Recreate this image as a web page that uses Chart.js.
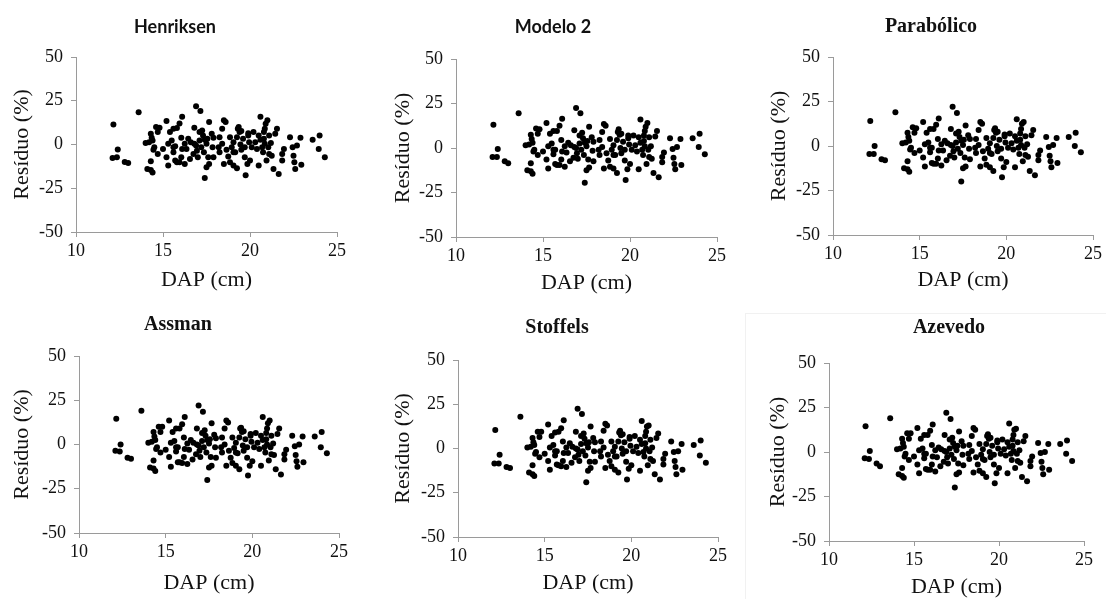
<!DOCTYPE html>
<html lang="pt">
<head>
<meta charset="utf-8">
<title>Resíduos por modelo</title>
<script src="https://cdn.jsdelivr.net/npm/chart.js@4.4.1/dist/chart.umd.min.js"></script>
<style>
  html, body { margin: 0; padding: 0; background: #fff; overflow: hidden; }
  body { position: relative; width: 1106px; height: 599px; }
  canvas { position: absolute; }
  .frame { position: absolute; left: 745px; top: 313px; width: 400px; height: 400px;
           border-left: 1px solid #f1f1f1; border-top: 1px solid #f1f1f1; }
</style>
</head>
<body>
<div class="frame"></div>
<canvas id="c0"></canvas>
<canvas id="c1"></canvas>
<canvas id="c2"></canvas>
<canvas id="c3"></canvas>
<canvas id="c4"></canvas>
<canvas id="c5"></canvas>
<script>
// DAP (cm) das árvores, comum a todos os modelos
const dap = [
  12.15, 12.1, 12.35, 12.4, 12.8, 13.0, 13.6, 14.0, 14.2, 14.1,
  14.3, 14.4, 14.3, 14.3, 14.35, 14.4, 14.6, 14.8, 14.5, 14.7,
  14.45, 15.0, 15.2, 15.3, 15.2, 15.4, 15.5, 15.3, 15.6, 15.8,
  15.95, 16.1, 15.6, 15.7, 15.8, 15.95, 15.7, 16.05, 16.1, 16.05,
  16.25, 16.35, 16.45, 16.6, 16.75, 16.55, 16.8, 16.9, 17.15, 16.9,
  16.95, 17.0, 17.1, 17.2, 17.3, 17.35, 17.4, 17.5, 17.55, 17.6,
  17.65, 17.65, 17.8, 17.85, 17.9, 17.9, 18.4, 18.5, 18.6, 18.4,
  18.5, 18.65, 18.75, 18.85, 18.85, 18.95, 19.05, 19.15, 19.25, 19.25,
  19.3, 19.4, 19.45, 19.5, 19.6, 19.7, 19.75, 19.85, 19.9, 19.95,
  20.1, 20.2, 20.3, 20.5, 20.6, 20.6, 20.7, 20.75, 20.8, 20.85,
  20.9, 20.95, 21.0, 21.05, 21.1, 21.2, 21.25, 21.35, 21.45, 21.55,
  21.65, 21.85, 21.95, 21.85, 22.3, 22.45, 22.5, 22.55, 22.6, 22.7,
  22.9, 22.95, 23.6, 24.0, 23.95, 24.3,
  16.8, 17.1, 19.05, 19.7, 20.4, 18.2, 18.25, 19.05, 20.0,
  19.35, 19.5, 19.9, 20.5, 20.8, 20.85, 18.25, 17.4, 17.25, 16.25,
  15.6, 14.7, 21.1, 17.5
];

// resíduos (%) de cada modelo, na mesma ordem do DAP
const residuoHenriksen = [
  11.5, -7.7, -7.3, -2.9, -10.0, -10.6, 18.5, 0.8, 1.3, -14.0,
  -14.6, -16.0, -9.6, 6.2, 3.8, 2.3, 10.0, 9.6, -1.5, -5.4,
  -3.0, -2.5, -7.3, -12.0, 13.5, 7.1, 2.3, 0.4, 9.0, 9.4,
  12.0, 15.8, -4.4, -9.2, -10.2, -10.2, -1.0, 3.8, -2.5, -7.3,
  -11.2, -2.5, 3.3, 1.3, -5.4, -8.3, 9.6, 21.9, 19.2, -0.6,
  -3.5, -7.3, 2.3, -1.5, 5.2, -4.4, -19.2, 0.4, 3.3, -7.3,
  -11.2, 12.9, 6.2, -1.5, -7.3, 3.8, 9.0, 13.8, 12.9, 0.4,
  -11.2, -3.0, -6.9, 4.2, -10.2, -1.5, 1.3, -4.4, -13.5, 4.2,
  9.0, 7.1, 0.0, -3.0, 3.3, -7.3, -17.5, -11.2, 5.2, 1.3,
  -1.5, 7.1, 1.3, -12.0, 2.7, 15.8, -1.5, -4.4, 7.1, 9.0,
  11.9, -9.2, 13.8, -1.5, 5.2, 0.8, -6.4, -14.0, 6.2, 9.0,
  -16.9, -5.4, -2.5, -9.2, 4.2, -1.5, -6.4, -10.2, -14.0, -0.6,
  3.8, -11.5, 2.7, 5.2, -2.5, -7.3,
  0.4, 7.1, -4.4, -1.5, -2.5, -1.5, 4.2, -12.0, -9.2,
  10.0, 7.7, 6.5, 5.2, 3.3, 0.4, -4.4, 2.7, 8.0, 0.4,
  -1.5, 7.1, -5.4, -13.0
];

const residuoModelo2 = [
  13.0, -5.0, -5.0, -0.5, -7.5, -8.5, 19.5, 1.5, 2.0, -12.5,
  -13.0, -14.5, -8.5, 7.5, 5.0, 3.0, 11.0, 10.5, -1.0, -4.0,
  -2.0, -2.0, -6.5, -11.5, 14.0, 8.0, 2.5, 1.0, 9.5, 9.5,
  12.5, 16.5, -3.5, -9.0, -9.5, -9.5, -1.0, 4.5, -2.0, -6.5,
  -10.5, -2.5, 3.0, 1.5, -5.5, -7.5, 10.0, 22.5, 19.5, 0.0,
  -3.0, -6.0, 2.5, -1.0, 5.5, -4.0, -19.5, 1.0, 4.0, -6.5,
  -11.0, 12.0, 6.0, -1.5, -7.5, 3.5, 9.0, 13.5, 12.5, 0.5,
  -11.5, -3.0, -7.0, 5.0, -10.5, -1.0, 1.5, -4.0, -14.0, 4.5,
  9.0, 7.5, 0.0, -3.0, 3.5, -7.0, -18.0, -12.0, 5.5, 2.0,
  -1.0, 7.0, 1.5, -12.0, 3.0, 16.0, -1.0, -4.0, 7.0, 9.5,
  12.0, -9.0, 14.0, -1.0, 6.0, 1.0, -6.0, -14.0, 6.5, 9.5,
  -16.5, -5.0, -2.5, -8.0, 5.5, -0.5, -5.5, -9.0, -12.0, 0.5,
  5.0, -9.5, 5.5, 8.0, 0.5, -3.5,
  0.5, 7.0, -4.0, -1.0, -2.0, -1.0, 4.5, -11.5, -9.0,
  10.5, 8.0, 7.0, 6.0, 4.0, 1.0, -4.0, 3.0, 8.5, 1.0,
  -1.0, 8.0, -5.0, -12.5
];

const residuoParabolico = [
  14.0, -4.5, -4.5, 0.0, -7.5, -8.0, 19.0, 1.5, 2.0, -12.5,
  -13.0, -14.5, -8.5, 7.5, 5.0, 3.0, 10.5, 10.0, -1.0, -4.0,
  -2.0, -2.5, -6.5, -11.5, 13.5, 7.5, 2.0, 1.0, 9.5, 9.5,
  12.0, 15.5, -3.5, -9.5, -10.0, -10.0, -1.0, 4.0, -2.5, -7.0,
  -11.0, -2.5, 3.0, 1.5, -5.5, -8.0, 9.5, 22.0, 18.5, 0.0,
  -3.0, -6.5, 2.0, -1.5, 5.0, -4.0, -20.0, 0.5, 3.5, -6.5,
  -11.5, 11.5, 6.0, -1.5, -7.5, 4.0, 9.0, 13.5, 12.5, 0.5,
  -11.5, -3.0, -7.0, 4.5, -10.5, -1.5, 1.5, -4.5, -14.0, 4.5,
  9.0, 7.5, 0.0, -3.0, 3.5, -7.0, -17.5, -12.0, 5.5, 2.0,
  -1.0, 7.0, 1.5, -12.0, 3.0, 15.0, -1.0, -4.5, 7.0, 9.5,
  12.5, -8.5, 13.5, -1.0, 5.5, 1.0, -6.0, -14.0, 6.0, 9.0,
  -16.5, -5.0, -2.5, -8.0, 5.0, -0.5, -5.5, -8.5, -12.0, 0.5,
  4.5, -9.5, 5.0, 7.5, 0.0, -3.5,
  0.5, 7.0, -4.0, -1.5, -2.0, -1.0, 4.0, -12.0, -9.0,
  10.0, 8.0, 6.5, 5.5, 3.5, 0.5, -4.0, 3.0, 8.0, 1.0,
  -1.0, 7.5, -5.0, -12.5
];

const residuoAssman = [
  14.5, -3.5, -4.0, 0.0, -7.5, -8.0, 19.0, 1.0, 1.5, -13.0,
  -13.5, -15.0, -9.0, 7.0, 4.5, 2.5, 10.0, 10.0, -1.5, -4.5,
  -2.5, -3.0, -7.0, -12.5, 13.5, 7.0, 2.0, 1.0, 9.0, 9.0,
  11.5, 15.5, -4.0, -10.0, -10.0, -10.5, -1.5, 4.0, -2.5, -7.0,
  -11.0, -3.0, 2.5, 1.0, -5.5, -8.5, 9.0, 22.0, 18.5, -0.5,
  -3.5, -7.0, 2.0, -1.5, 5.0, -4.5, -20.0, 0.5, 3.0, -7.0,
  -12.0, 12.0, 5.5, -1.5, -7.5, 3.5, 9.0, 13.5, 12.5, 0.0,
  -12.0, -3.5, -7.5, 4.0, -10.5, -2.0, 1.0, -5.0, -14.0, 4.0,
  9.0, 7.0, -0.5, -3.5, 3.0, -7.5, -17.5, -12.0, 5.0, 1.5,
  -1.5, 6.5, 1.0, -12.0, 2.5, 15.5, -1.5, -4.5, 6.5, 9.0,
  12.0, -9.0, 13.5, -1.5, 5.0, 0.5, -6.0, -14.0, 6.0, 9.0,
  -17.0, -5.5, -3.0, -8.5, 5.0, -1.0, -6.0, -9.5, -12.5, 0.0,
  4.5, -10.0, 4.5, 7.0, -1.5, -5.0,
  0.0, 6.5, -4.5, -1.5, -2.5, -1.5, 4.0, -12.0, -9.5,
  9.5, 7.5, 6.0, 5.0, 3.0, 0.0, -4.5, 2.5, 8.0, 0.5,
  -1.5, 7.0, -5.5, -13.0
];

const residuoStoffels = [
  10.5, -8.5, -8.5, -3.5, -10.5, -11.0, 18.0, 0.5, 1.0, -13.5,
  -14.5, -15.5, -9.5, 6.0, 3.5, 2.0, 9.5, 9.5, -2.0, -5.0,
  -3.0, -3.0, -7.0, -12.0, 13.5, 7.0, 2.0, 0.5, 9.0, 9.5,
  11.5, 16.0, -4.0, -9.0, -9.5, -10.0, -1.5, 4.0, -2.5, -7.0,
  -10.5, -2.5, 3.0, 1.0, -5.0, -8.0, 9.5, 22.5, 19.5, -0.5,
  -3.5, -7.0, 2.5, -1.5, 5.5, -4.0, -19.0, 0.5, 3.5, -7.5,
  -11.0, 12.5, 6.0, -1.5, -7.5, 3.5, 10.0, 14.0, 13.0, 0.5,
  -11.0, -3.5, -7.0, 4.0, -10.0, -1.5, 1.0, -4.5, -13.5, 4.0,
  9.0, 7.5, 0.0, -3.0, 3.5, -7.5, -17.5, -11.5, 5.5, 1.5,
  -1.5, 7.0, 1.0, -12.5, 2.5, 15.5, -2.0, -4.5, 7.0, 9.5,
  12.5, -9.5, 13.0, -1.5, 5.0, 0.5, -7.0, -14.5, 6.0, 8.5,
  -17.5, -6.0, -3.0, -9.0, 4.0, -2.0, -7.0, -10.5, -14.5, -1.5,
  2.5, -12.0, 2.0, 4.5, -4.0, -8.0,
  0.0, 7.0, -4.5, -1.5, -2.5, -1.5, 4.0, -12.0, -9.5,
  10.0, 8.0, 6.5, 5.0, 3.0, 0.0, -4.5, 3.0, 8.5, 0.5,
  -1.5, 6.5, -6.0, -12.5
];

const residuoAzevedo = [
  14.5, -3.5, -4.0, 0.5, -6.5, -8.0, 19.0, 1.5, 2.0, -12.5,
  -13.5, -14.5, -9.0, 7.5, 5.0, 3.0, 10.5, 10.5, -1.0, -4.5,
  -2.5, -2.5, -7.0, -12.0, 13.5, 7.5, 2.0, 1.0, 9.5, 9.5,
  12.0, 15.5, -3.5, -9.5, -10.0, -10.0, -1.0, 4.0, -2.5, -7.0,
  -11.0, -3.0, 2.5, 1.5, -5.5, -8.0, 9.5, 22.0, 18.5, 0.0,
  -3.0, -6.5, 2.0, -1.5, 5.0, -4.0, -20.0, 1.0, 3.5, -6.5,
  -11.5, 11.5, 6.0, -1.5, -7.5, 3.5, 9.0, 13.5, 12.5, 0.5,
  -11.5, -3.0, -7.0, 4.5, -10.5, -1.5, 1.5, -4.5, -14.0, 4.5,
  9.0, 7.5, 0.0, -3.0, 3.5, -7.0, -17.5, -12.0, 5.5, 2.0,
  -1.0, 7.0, 1.5, -12.0, 3.0, 16.0, -1.0, -4.5, 7.0, 9.5,
  12.5, -9.0, 13.0, -1.0, 5.5, 1.0, -6.0, -14.0, 6.0, 9.0,
  -16.5, -5.0, -2.5, -8.0, 5.0, -0.5, -5.5, -9.0, -12.5, 0.0,
  4.5, -10.0, 4.5, 6.5, -1.0, -5.0,
  0.5, 7.0, -4.0, -1.5, -2.0, -1.0, 4.0, -12.0, -9.0,
  10.0, 8.0, 6.5, 5.5, 3.5, 0.5, -4.0, 3.0, 8.0, 1.0,
  -1.0, 7.5, -5.0, -12.5
];

const modelos = ["Henriksen", "Modelo 2", "Parabólico", "Assman", "Stoffels", "Azevedo"];
const residuos = [residuoHenriksen, residuoModelo2, residuoParabolico, residuoAssman, residuoStoffels, residuoAzevedo];
const xTicks = [10, 15, 20, 25];
const yTicks = [-50, -25, 0, 25, 50];

// posição de cada painel: área do gráfico (L,R,T,B), centro do título, folgas dos rótulos dos eixos
const paineis = [
  { L: 76,  R: 337,  T: 57,  B: 232, tx: 175, ty: 27,  sans: true,  yPad: 9,  xPad: 14 },
  { L: 456, R: 717,  T: 59,  B: 237, tx: 553, ty: 27,  sans: true,  yPad: 10, xPad: 16 },
  { L: 833, R: 1093, T: 57,  B: 235, tx: 931, ty: 27,  sans: false, yPad: 9,  xPad: 17 },
  { L: 79,  R: 339,  T: 356, B: 533, tx: 178, ty: 325, sans: false, yPad: 6,  xPad: 12 },
  { L: 458, R: 718,  T: 360, B: 537, tx: 557, ty: 328, sans: false, yPad: 8,  xPad: 16 },
  { L: 829, R: 1084, T: 363, B: 541, tx: 949, ty: 328, sans: false, yPad: 12, xPad: 16 }
];

const AXIS_W = 76;
const AXIS_H = 75;
const TOP_PAD = 60;
const RIGHT_PAD = 24;
const SERIF = "Liberation Serif";

Chart.defaults.font.family = SERIF;
Chart.defaults.color = "#111";

// título do painel desenhado numa posição fixa
const panelTitle = {
  id: "panelTitle",
  afterDraw(chart, args, opts) {
    const ctx = chart.ctx;
    ctx.save();
    ctx.fillStyle = "#111";
    ctx.font = opts.font;
    ctx.textAlign = "center";
    ctx.textBaseline = "middle";
    ctx.fillText(opts.text, opts.x, opts.y);
    ctx.restore();
  }
};

function buildPanel(i) {
  const p = paineis[i];
  const canvas = document.getElementById("c" + i);
  const left = p.L - AXIS_W;
  const top = p.T - TOP_PAD;
  const width = p.R - p.L + AXIS_W + RIGHT_PAD;
  const height = p.B - p.T + TOP_PAD + AXIS_H;
  canvas.width = width;
  canvas.height = height;
  canvas.style.left = left + "px";
  canvas.style.top = top + "px";
  canvas.style.width = width + "px";
  canvas.style.height = height + "px";

  const points = dap.map((d, k) => ({ x: d, y: residuos[i][k] }));
  const tickFont = { family: SERIF, size: 18 };
  const labelFont = { family: SERIF, size: 22 };

  new Chart(canvas.getContext("2d"), {
    type: "scatter",
    data: {
      datasets: [{
        data: points,
        backgroundColor: "#000",
        borderWidth: 0,
        pointRadius: 3,
        pointHoverRadius: 3
      }]
    },
    options: {
      responsive: false,
      animation: false,
      devicePixelRatio: 1,
      events: [],
      layout: { padding: { top: TOP_PAD, right: RIGHT_PAD, left: 0, bottom: 0 } },
      plugins: {
        legend: { display: false },
        tooltip: { enabled: false },
        title: { display: false },
        panelTitle: {
          text: modelos[i],
          x: p.tx - left,
          y: p.ty - top,
          font: p.sans ? "bold 18px Lato, 'Liberation Sans', sans-serif" : "bold 20px 'Liberation Serif', serif"
        }
      },
      scales: {
        x: {
          type: "linear",
          min: xTicks[0],
          max: xTicks[xTicks.length - 1],
          afterBuildTicks: axis => { axis.ticks = xTicks.map(v => ({ value: v })); },
          afterFit: axis => { axis.height = AXIS_H; },
          grid: { drawOnChartArea: false, drawTicks: true, tickLength: 5, color: "#9a9a9a" },
          border: { display: true, color: "#9a9a9a", width: 1 },
          ticks: { color: "#111", padding: 3, font: tickFont },
          title: {
            display: true,
            text: "DAP (cm)",
            color: "#111",
            font: labelFont,
            padding: { top: 0, bottom: p.xPad }
          }
        },
        y: {
          type: "linear",
          min: yTicks[0],
          max: yTicks[yTicks.length - 1],
          afterBuildTicks: axis => { axis.ticks = yTicks.map(v => ({ value: v })); },
          afterFit: axis => { axis.width = AXIS_W; },
          grid: { drawOnChartArea: false, drawTicks: true, tickLength: 5, color: "#9a9a9a" },
          border: { display: true, color: "#9a9a9a", width: 1 },
          ticks: { color: "#111", padding: 8, font: tickFont },
          title: {
            display: true,
            text: "Resíduo (%)",
            color: "#111",
            font: labelFont,
            padding: { top: p.yPad, bottom: 0 }
          }
        }
      }
    },
    plugins: [panelTitle]
  });
}

modelos.forEach((m, i) => buildPanel(i));
</script>
</body>
</html>
